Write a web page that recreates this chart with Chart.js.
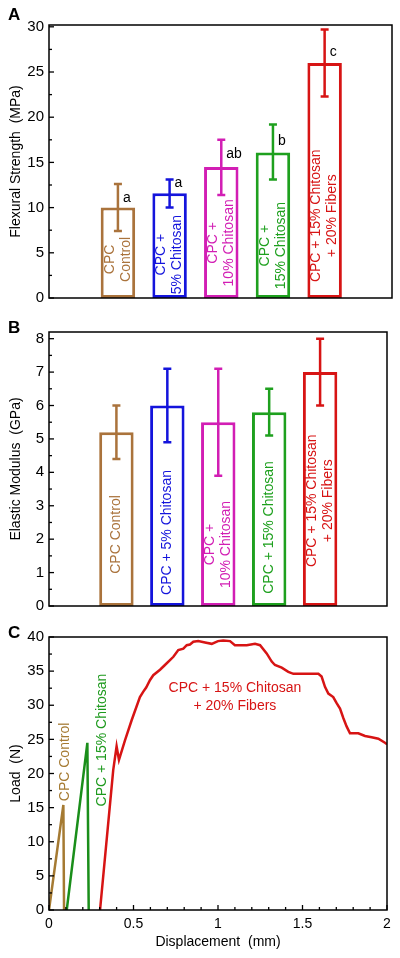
<!DOCTYPE html>
<html>
<head>
<meta charset="utf-8">
<script src="https://cdn.jsdelivr.net/npm/chart.js@4.4.0/dist/chart.umd.min.js"></script>
<style>
  body { margin: 0; background: #fff; }
  #wrap { position: relative; width: 400px; height: 958px; }
  canvas { position: absolute; left: 0; }
</style>
</head>
<body>
<div id="wrap">
  <canvas id="chartA" width="400" height="312" style="top:0"></canvas>
  <canvas id="chartB" width="400" height="308" style="top:312px"></canvas>
  <canvas id="chartC" width="400" height="338" style="top:620px"></canvas>
</div>
<script>
// groups (same order in A and B)
const groups = ['CPC Control', 'CPC + 5% Chitosan', 'CPC + 10% Chitosan', 'CPC + 15% Chitosan', 'CPC + 15% Chitosan + 20% Fibers'];
const groupColors = ['#aa733c', '#1414dc', '#d21eb4', '#1ea01e', '#d71414'];

// how the group names are broken inside the bars
const linesA = [['CPC', 'Control'], ['CPC +', '5% Chitosan'], ['CPC +', '10% Chitosan'], ['CPC +', '15% Chitosan'], ['CPC + 15% Chitosan', '+ 20% Fibers']];
const linesB = [['CPC Control'], ['CPC + 5% Chitosan'], ['CPC +', '10% Chitosan'], ['CPC + 15% Chitosan'], ['CPC + 15% Chitosan', '+ 20% Fibers']];

// A: flexural strength (MPa)
const flexMean = [10.0, 11.6, 14.5, 16.1, 26.0];
const flexLow = [7.4, 10.0, 11.4, 13.1, 22.3];
const flexHigh = [12.6, 13.1, 17.5, 19.2, 29.7];
const sigLetters = ['a', 'a', 'ab', 'b', 'c'];

// B: elastic modulus (GPa)
const modMean = [5.2, 6.0, 5.5, 5.8, 7.0];
const modLow = [4.4, 4.9, 3.9, 5.1, 6.0];
const modHigh = [6.0, 7.1, 7.1, 6.5, 8.0];

// C: load-displacement curves
const controlX = [0, 0.085, 0.089];
const controlY = [0, 15.4, 0];
const chitosanX = [0.105, 0.227, 0.235];
const chitosanY = [0, 24.5, 0];
const fiberX = [0.302, 0.38, 0.40, 0.414, 0.45, 0.489, 0.538, 0.558, 0.575, 0.598, 0.617, 0.657, 0.686, 0.736, 0.765, 0.795, 0.815, 0.834, 0.854, 0.883, 0.923, 0.963, 1.0, 1.031, 1.071, 1.10, 1.17, 1.219, 1.249, 1.288, 1.318, 1.337, 1.377, 1.416, 1.446, 1.594, 1.613, 1.633, 1.653, 1.682, 1.702, 1.722, 1.742, 1.761, 1.781, 1.830, 1.870, 1.909, 1.949, 1.988, 2.0];
const fiberY = [0, 20.5, 24.0, 22.0, 24.9, 27.8, 31.2, 32.0, 32.6, 33.7, 34.4, 35.2, 35.9, 37.1, 38.1, 38.3, 38.8, 38.9, 39.3, 39.4, 39.2, 39.0, 39.4, 39.5, 39.4, 38.8, 38.8, 39.0, 38.8, 37.6, 36.4, 35.9, 35.5, 34.9, 34.6, 34.6, 34.2, 32.7, 31.7, 31.2, 30.3, 29.5, 28.1, 26.9, 25.9, 25.9, 25.5, 25.3, 25.1, 24.5, 24.3];

Chart.defaults.font.family = "'Liberation Sans', Arial, sans-serif";
Chart.defaults.color = '#000';
Chart.defaults.animation = false;

function framePlugin(bottomTicks) {
  return {
    id: 'frame',
    afterDatasetsDraw(chart) {
      const ctx = chart.ctx, a = chart.chartArea;
      ctx.save();
      ctx.strokeStyle = '#000';
      ctx.lineWidth = 1.3;
      const y = chart.scales.y;
      y.ticks.forEach(t => {
        const py = y.getPixelForValue(t.value);
        ctx.beginPath();
        ctx.moveTo(a.left, py);
        ctx.lineTo(a.left + (t.label ? 5 : 3), py);
        ctx.stroke();
      });
      if (bottomTicks) {
        const x = chart.scales.x;
        x.ticks.forEach(t => {
          const px = x.getPixelForValue(t.value);
          ctx.beginPath();
          ctx.moveTo(px, a.bottom);
          ctx.lineTo(px, a.bottom - (t.label ? 5 : 3));
          ctx.stroke();
        });
      }
      ctx.lineWidth = 1.5;
      ctx.strokeRect(a.left, a.top, a.right - a.left, a.bottom - a.top);
      ctx.restore();
    }
  };
}

function panelLetter(letter, baseline) {
  return {
    id: 'panelLetter',
    afterDraw(chart) {
      const ctx = chart.ctx;
      ctx.save();
      ctx.font = "bold 17px 'Liberation Sans', Arial, sans-serif";
      ctx.fillStyle = '#000';
      ctx.textAlign = 'left';
      ctx.textBaseline = 'alphabetic';
      ctx.fillText(letter, 8, baseline);
      ctx.restore();
    }
  };
}

function errorBars(low, high) {
  return {
    id: 'errorBars',
    afterDatasetsDraw(chart) {
      const ctx = chart.ctx, y = chart.scales.y;
      const meta = chart.getDatasetMeta(0);
      ctx.save();
      ctx.lineWidth = 2.5;
      meta.data.forEach((bar, i) => {
        const top = y.getPixelForValue(high[i]);
        const bot = y.getPixelForValue(low[i]);
        ctx.strokeStyle = groupColors[i];
        ctx.beginPath();
        ctx.moveTo(bar.x, top); ctx.lineTo(bar.x, bot);
        ctx.moveTo(bar.x - 4, top); ctx.lineTo(bar.x + 4, top);
        ctx.moveTo(bar.x - 4, bot); ctx.lineTo(bar.x + 4, bot);
        ctx.stroke();
      });
      ctx.restore();
    }
  };
}

// rotated group names inside the bars, centred at a value on the y scale
function barText(lines, centers) {
  return {
    id: 'barText',
    afterDatasetsDraw(chart) {
      const ctx = chart.ctx, y = chart.scales.y;
      const meta = chart.getDatasetMeta(0);
      ctx.save();
      ctx.font = "14px 'Liberation Sans', Arial, sans-serif";
      ctx.textAlign = 'center';
      ctx.textBaseline = 'middle';
      meta.data.forEach((bar, i) => {
        ctx.save();
        ctx.translate(bar.x, y.getPixelForValue(centers[i]));
        ctx.rotate(-Math.PI / 2);
        ctx.fillStyle = groupColors[i];
        const n = lines[i].length;
        lines[i].forEach((line, k) => {
          ctx.fillText(line, 0, (k - (n - 1) / 2) * 16);
        });
        ctx.restore();
      });
      ctx.restore();
    }
  };
}

function letterText(letters, at) {
  return {
    id: 'letters',
    afterDatasetsDraw(chart) {
      const ctx = chart.ctx, y = chart.scales.y;
      const meta = chart.getDatasetMeta(0);
      ctx.save();
      ctx.font = "14px 'Liberation Sans', Arial, sans-serif";
      ctx.fillStyle = '#000';
      ctx.textAlign = 'left';
      ctx.textBaseline = 'middle';
      meta.data.forEach((bar, i) => {
        ctx.fillText(letters[i], bar.x + 5, y.getPixelForValue(at[i]));
      });
      ctx.restore();
    }
  };
}

function barChart(id, values, yMax, step, labelEvery, title, xMin, xMax, barPct, padding, extraPlugins) {
  new Chart(document.getElementById(id), {
    type: 'bar',
    data: {
      datasets: [{
        data: values.map((v, i) => ({x: i, y: v})),
        backgroundColor: '#fff',
        borderColor: groupColors,
        borderWidth: 3,
        borderSkipped: false,
        barPercentage: barPct,
        categoryPercentage: 1
      }]
    },
    options: {
      responsive: false,
      layout: {padding: padding},
      plugins: {legend: {display: false}, tooltip: {enabled: false}},
      scales: {
        x: {type: 'linear', min: xMin, max: xMax, display: false},
        y: {
          min: 0,
          max: yMax,
          grid: {display: false, drawTicks: false},
          border: {display: false},
          ticks: {
            stepSize: step,
            includeBounds: false,
            autoSkip: false,
            padding: 5,
            font: {size: 15},
            callback: v => (Math.abs(v / labelEvery - Math.round(v / labelEvery)) < 1e-6 ? String(v) : '')
          },
          title: {display: true, text: title, font: {size: 14}, padding: {top: 8, bottom: 0}},
          afterFit: s => { s.width = 49; }
        }
      }
    },
    plugins: extraPlugins
  });
}

barChart('chartA', flexMean, 30.2, 2.5, 5, 'Flexural Strength  (MPa)', -0.67, 4.64, 0.667,
  {top: 25, right: 8, bottom: 11, left: 0},
  [errorBars(flexLow, flexHigh), barText(linesA, [4.27, 4.8, 6.1, 5.8, 9.1]),
   letterText(sigLetters, [11.0, 12.7, 15.9, 17.3, 27.2]), framePlugin(false), panelLetter('A', 20)]);

barChart('chartB', modMean, 8.2, 0.5, 1, 'Elastic Modulus  (GPa)', -0.66, 4.65, 0.676,
  {top: 20, right: 13, bottom: 13, left: 0},
  [errorBars(modLow, modHigh), barText(linesB, [2.14, 2.2, 1.84, 2.35, 3.15]),
   framePlugin(false), panelLetter('B', 21)]);

// C: load vs displacement
function toPoints(xs, ys) {
  return xs.map((x, i) => ({x: x, y: ys[i]}));
}

const curveText = {
  id: 'curveText',
  afterDatasetsDraw(chart) {
    const ctx = chart.ctx, x = chart.scales.x, y = chart.scales.y;
    ctx.save();
    ctx.font = "14px 'Liberation Sans', Arial, sans-serif";
    ctx.textAlign = 'center';
    ctx.textBaseline = 'middle';
    // rotated labels beside the two short curves
    [['CPC Control', 0.095, 21.7, '#a57a32'], ['CPC + 15% Chitosan', 0.312, 24.9, '#1e9a1e']].forEach(l => {
      ctx.save();
      ctx.translate(x.getPixelForValue(l[1]), y.getPixelForValue(l[2]));
      ctx.rotate(-Math.PI / 2);
      ctx.fillStyle = l[3];
      ctx.fillText(l[0], 0, 0);
      ctx.restore();
    });
    ctx.fillStyle = '#d71414';
    ctx.fillText('CPC + 15% Chitosan', x.getPixelForValue(1.10), y.getPixelForValue(32.5));
    ctx.fillText('+ 20% Fibers', x.getPixelForValue(1.10), y.getPixelForValue(29.9));
    ctx.restore();
  }
};

new Chart(document.getElementById('chartC'), {
  type: 'line',
  data: {
    datasets: [
      {data: toPoints(controlX, controlY), borderColor: '#a57a32'},
      {data: toPoints(chitosanX, chitosanY), borderColor: '#1a8e1a'},
      {data: toPoints(fiberX, fiberY), borderColor: '#d71414'}
    ]
  },
  options: {
    responsive: false,
    layout: {padding: {top: 17, right: 13, bottom: 0, left: 0}},
    elements: {
      line: {borderWidth: 2.5, tension: 0, fill: false},
      point: {radius: 0}
    },
    plugins: {legend: {display: false}, tooltip: {enabled: false}},
    scales: {
      x: {
        type: 'linear',
        min: 0,
        max: 2,
        grid: {display: false, drawTicks: false},
        border: {display: false},
        ticks: {
          stepSize: 0.1,
          includeBounds: false,
          autoSkip: false,
          maxRotation: 0,
          padding: 6,
          font: {size: 14},
          callback: v => (Math.abs(v * 2 - Math.round(v * 2)) < 1e-6 ? String(Math.round(v * 2) / 2) : '')
        },
        title: {display: true, text: 'Displacement  (mm)', font: {size: 14}, padding: {top: 0, bottom: 7}},
        afterFit: s => { s.height = 48; }
      },
      y: {
        min: 0,
        max: 40,
        grid: {display: false, drawTicks: false},
        border: {display: false},
        ticks: {
          stepSize: 2.5,
          includeBounds: false,
          autoSkip: false,
          padding: 5,
          font: {size: 15},
          callback: v => (v % 5 === 0 ? String(v) : '')
        },
        title: {display: true, text: 'Load  (N)', font: {size: 14}, padding: {top: 8, bottom: 0}},
        afterFit: s => { s.width = 49; }
      }
    }
  },
  plugins: [curveText, framePlugin(true), panelLetter('C', 18)]
});
</script>
</body>
</html>
